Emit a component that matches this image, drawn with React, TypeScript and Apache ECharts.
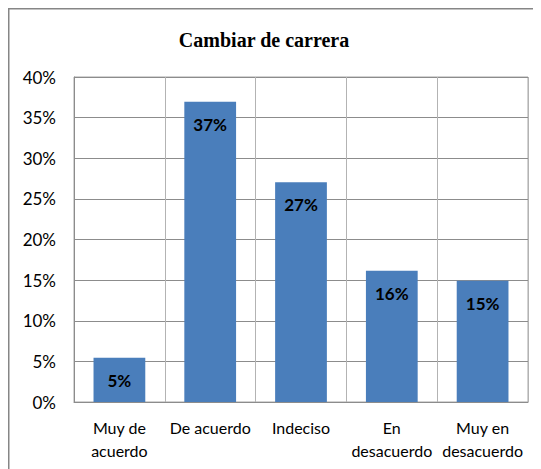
import React, { useEffect, useRef } from "react";
import * as echarts from "echarts";

const title = "Cambiar de carrera";
const categories = ["Muy de\nacuerdo", "De acuerdo", "Indeciso", "En\ndesacuerdo", "Muy en\ndesacuerdo"];
const values = [5.45, 36.96, 27.04, 16.16, 14.93];
const dataLabels = ["5%", "37%", "27%", "16%", "15%"];
const yTicks = [0, 5, 10, 15, 20, 25, 30, 35, 40];

export default function App() {
  const ref = useRef<HTMLDivElement>(null);
  useEffect(() => {
    if (!ref.current) return;
    const chart = echarts.init(ref.current, undefined, { renderer: "svg" });
    chart.setOption({
      animation: false,
      backgroundColor: "#ffffff",
      title: {
        text: title,
        left: 251,
        top: 17,
        textAlign: "center",
        textStyle: { fontFamily: "Liberation Serif", fontWeight: "bold", fontSize: 20, color: "#000000" },
      },
      graphic: [
        { type: "line", shape: { x1: 0.75, y1: 0, x2: 0.75, y2: 470 }, style: { stroke: "#868686", lineWidth: 1.5 } },
        { type: "line", shape: { x1: 0, y1: 0.75, x2: 540, y2: 0.75 }, style: { stroke: "#868686", lineWidth: 1.5 } },
      ],
      grid: { left: 66, top: 69, right: 13, bottom: 67, containLabel: false, show: true, borderColor: "#a6a6a6", borderWidth: 1 },
      xAxis: {
        type: "category",
        data: categories,
        axisLine: { show: true, lineStyle: { color: "#8c8c8c", width: 1 } },
        axisTick: { show: false },
        splitLine: { show: true, lineStyle: { color: "#b3b3b3", width: 1 } },
        axisLabel: {
          interval: 0,
          margin: 14,
          fontFamily: "Lato",
          fontSize: 16,
          lineHeight: 23,
          color: "#000000",
        },
      },
      yAxis: {
        type: "value",
        min: yTicks[0],
        max: yTicks[yTicks.length - 1],
        interval: 5,
        axisLine: { show: true, lineStyle: { color: "#8c8c8c", width: 1 } },
        axisTick: { show: false },
        splitLine: { show: true, lineStyle: { color: "#8c8c8c", width: 1 } },
        axisLabel: {
          margin: 18,
          fontFamily: "Lato",
          fontSize: 17,
          color: "#000000",
          formatter: (v: number) => `${v}%`,
        },
      },
      series: [
        {
          type: "bar",
          data: values,
          barWidth: "57%",
          itemStyle: { color: "#4a7ebb" },
          label: {
            show: true,
            position: "insideTop",
            distance: 14,
            fontFamily: "Lato",
            fontWeight: "bold",
            fontSize: 17,
            color: "#000000",
            formatter: (p: any) => dataLabels[p.dataIndex],
          },
        },
      ],
    });
    return () => chart.dispose();
  }, []);
  return <div ref={ref} style={{ width: 533, height: 461 }} />;
}
